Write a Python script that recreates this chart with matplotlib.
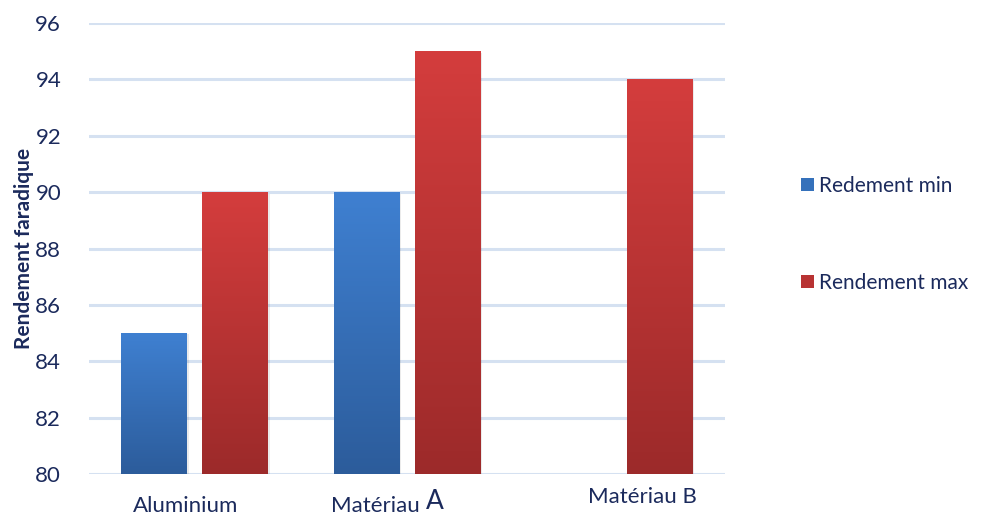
import numpy as np
import matplotlib
matplotlib.use("Agg")
import matplotlib.pyplot as plt
from matplotlib.colors import LinearSegmentedColormap
from matplotlib.patches import Patch

categories = ["Aluminium", "Matériau A", "Matériau B"]
rend_min = [85, 90, np.nan]
rend_max = [90, 95, 94]
series_names = ["Redement min", "Rendement max"]
yticks = [80, 82, 84, 86, 88, 90, 92, 94, 96]

plt.rcParams['font.family'] = ['Lato', 'DejaVu Sans']
txt = "#1b2a5c"

fig = plt.figure(figsize=(9.84, 5.15), dpi=100)
ax = fig.add_axes([0.0904, 0.0796, 0.6464, 0.8757])
x = np.arange(len(categories))
w = 0.311
off = 0.191

blue_cmap = LinearSegmentedColormap.from_list("b", ["#2c5c9b", "#3f80d1"])
red_cmap = LinearSegmentedColormap.from_list("r", ["#9c2a2a", "#d43d3d"])

grad = np.linspace(0, 1, 256).reshape(-1, 1)
for vals, dx, cmap in [(rend_min, -off, blue_cmap), (rend_max, off, red_cmap)]:
    bars = ax.bar(x + dx, np.nan_to_num(vals, nan=80) - 80, bottom=80, width=w,
                  color="none", edgecolor="none", zorder=3)
    for b, v in zip(bars, vals):
        if np.isnan(v):
            continue
        x0, y0 = b.get_x(), b.get_y()
        ax.add_patch(plt.Rectangle((x0 + 0.006, y0 - 0.05), b.get_width(), b.get_height(),
                                   color="#000000", alpha=0.08, zorder=2.5, lw=0))
        ax.imshow(grad, extent=(x0, x0 + b.get_width(), y0, y0 + b.get_height()),
                  origin="lower", cmap=cmap, aspect="auto", zorder=3)
ax.set_xlim(-0.5, 2.5)
ax.set_ylim(80, 96)

ax.set_yticks(yticks)
ax.yaxis.grid(True, color="#d5e1f1", linewidth=2.2, zorder=0)
ax.set_axisbelow(True)
for s in ax.spines.values():
    s.set_visible(False)
ax.tick_params(axis="y", length=0, pad=20, labelsize=16, labelcolor=txt)
ax.set_xticks([])

ax.set_ylabel("Rendement faradique", fontsize=15, fontweight="bold", color=txt, labelpad=1)

xt = ax.get_xaxis_transform()
ax.text(x[0] - 0.045, -0.07, categories[0], transform=xt, ha="center", va="center",
        fontsize=16, color=txt)
ax.text(x[1] + 0.059, -0.07, categories[1][:-2], transform=xt, ha="right", va="center",
        fontsize=16, color=txt)
ax.text(x[1] + 0.088, -0.062, categories[1][-1], transform=xt, ha="left", va="center",
        fontsize=19, color=txt)
ax.text(x[2] + 0.11, -0.052, categories[2], transform=xt, ha="center", va="center",
        fontsize=16, color=txt)

handles = [Patch(facecolor="#3571bb", edgecolor="none"),
           Patch(facecolor="#b83333", edgecolor="none")]
fig.legend(handles, series_names, loc="center left", bbox_to_anchor=(0.795, 0.545),
           frameon=False, fontsize=15, labelcolor=txt, handlelength=0.6, handleheight=0.6,
           handletextpad=0.25, labelspacing=3.7)

fig.savefig("out.png", dpi=100)
